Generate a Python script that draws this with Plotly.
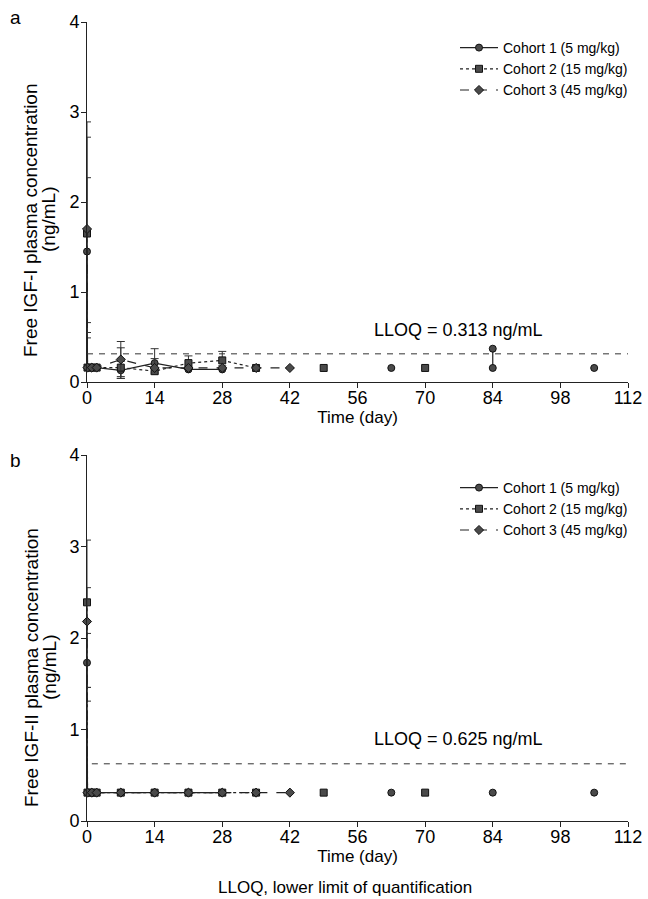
import plotly.graph_objects as go

# ---------------- data ----------------
x_ticks = [0, 14, 28, 42, 56, 70, 84, 98, 112]
y_ticks = [0, 1, 2, 3, 4]

cohort_names = ["Cohort 1 (5 mg/kg)", "Cohort 2 (15 mg/kg)", "Cohort 3 (45 mg/kg)"]

# Panel a: free IGF-I
a_c1_days = [0, 0.1, 1, 2, 7, 14, 21, 28]
a_c1_vals = [1.45, 0.16, 0.16, 0.16, 0.13, 0.21, 0.14, 0.14]
a_c1_errp = [0.82, 0, 0, 0, 0.10, 0.16, 0, 0]
a_c1_errm = [0.79, 0, 0, 0, 0.09, 0.10, 0, 0]
a_c1_ind_days = [63, None, 84, 84, None, 105]
a_c1_ind_vals = [0.156, None, 0.37, 0.156, None, 0.156]

a_c2_days = [0, 0.1, 1, 2, 7, 14, 21, 28, 35]
a_c2_vals = [1.65, 0.16, 0.16, 0.16, 0.16, 0.12, 0.21, 0.24, 0.156]
a_c2_errp = [1.07, 0, 0, 0, 0.22, 0.14, 0.08, 0.10, 0]
a_c2_errm = [1.10, 0, 0, 0, 0.10, 0.03, 0.04, 0.06, 0]
a_c2_ind_days = [49, 70]
a_c2_ind_vals = [0.156, 0.156]

a_c3_days = [0, 0.1, 1, 2, 7, 14, 21, 28, 35, 42]
a_c3_vals = [1.70, 0.16, 0.16, 0.16, 0.25, 0.156, 0.156, 0.156, 0.156, 0.156]
a_c3_errp = [1.19, 0, 0, 0, 0.20, 0, 0, 0, 0, 0]
a_c3_errm = [1.21, 0, 0, 0, 0.21, 0, 0, 0, 0, 0]
a_lloq = 0.313

# Panel b: free IGF-II
b_c1_days = [0, 0.1, 1, 2, 7, 14, 21, 28]
b_c1_vals = [1.73, 0.31, 0.31, 0.31, 0.31, 0.31, 0.31, 0.31]
b_c1_errp = [0.32, 0, 0, 0, 0, 0, 0, 0]
b_c1_errm = [0.27, 0, 0, 0, 0, 0, 0, 0]
b_c1_ind_days = [63, 84, 105]
b_c1_ind_vals = [0.31, 0.31, 0.31]

b_c2_days = [0, 0.1, 1, 2, 7, 14, 21, 28, 35]
b_c2_vals = [2.39, 0.31, 0.31, 0.31, 0.31, 0.31, 0.31, 0.31, 0.31]
b_c2_errp = [0.68, 0, 0, 0, 0, 0, 0, 0, 0]
b_c2_errm = [1.08, 0, 0, 0, 0, 0, 0, 0, 0]
b_c2_ind_days = [49, 70]
b_c2_ind_vals = [0.31, 0.31]

b_c3_days = [0, 0.1, 1, 2, 7, 14, 21, 28, 35, 42]
b_c3_vals = [2.18, 0.31, 0.31, 0.31, 0.31, 0.31, 0.31, 0.31, 0.31, 0.31]
b_c3_errp = [0.37, 0, 0, 0, 0, 0, 0, 0, 0, 0]
b_c3_errm = [0.72, 0, 0, 0, 0, 0, 0, 0, 0, 0]
b_lloq = 0.625

lloq_span = [0, 112]
lloq_span_b = [1, 112]

# ---------------- styling ----------------
FONT = "Liberation Sans, Arial, sans-serif"
LINE_COL = "#222222"
MK_FILL = "#4a4a4a"
styles = [
    dict(dash="solid", symbol="circle"),
    dict(dash="dot", symbol="square"),
    dict(dash="dash", symbol="diamond"),
]

fig = go.Figure()


def add_panel(xa, ya, legend, series, lloq, span):
    for i, (days, vals, ep, em, ind_d, ind_v) in enumerate(series):
        st = styles[i]
        mk = dict(symbol=st["symbol"], size=7, color=MK_FILL,
                  line=dict(color="#111111", width=1))
        fig.add_trace(go.Scatter(
            x=days, y=vals, mode="lines+markers", name=cohort_names[i],
            xaxis=xa, yaxis=ya, legend=legend, cliponaxis=False,
            line=dict(color=LINE_COL, width=1.2, dash=st["dash"]),
            marker=mk,
            error_y=dict(type="data", symmetric=False, array=ep, arrayminus=em,
                         color="#333333", thickness=1, width=4),
        ))
        if ind_d:
            mode = "lines+markers" if None in ind_d else "markers"
            fig.add_trace(go.Scatter(
                x=ind_d, y=ind_v, mode=mode, showlegend=False,
                xaxis=xa, yaxis=ya, legend=legend, cliponaxis=False, connectgaps=False,
                line=dict(color=LINE_COL, width=1.2),
                marker=mk,
            ))
    fig.add_trace(go.Scatter(
        x=span, y=[lloq, lloq], mode="lines", showlegend=False,
        xaxis=xa, yaxis=ya, line=dict(color="#333333", width=1, dash="6px,6px"),
    ))


add_panel("x", "y", "legend", [
    (a_c1_days, a_c1_vals, a_c1_errp, a_c1_errm, a_c1_ind_days, a_c1_ind_vals),
    (a_c2_days, a_c2_vals, a_c2_errp, a_c2_errm, a_c2_ind_days, a_c2_ind_vals),
    (a_c3_days, a_c3_vals, a_c3_errp, a_c3_errm, None, None),
], a_lloq, lloq_span)

add_panel("x2", "y2", "legend2", [
    (b_c1_days, b_c1_vals, b_c1_errp, b_c1_errm, b_c1_ind_days, b_c1_ind_vals),
    (b_c2_days, b_c2_vals, b_c2_errp, b_c2_errm, b_c2_ind_days, b_c2_ind_vals),
    (b_c3_days, b_c3_vals, b_c3_errp, b_c3_errm, None, None),
], b_lloq, lloq_span_b)

W, H = 648, 899
xdom = [87 / W, 628 / W]
ydom_a = [1 - 382 / H, 1 - 22 / H]
ydom_b = [1 - 821 / H, 1 - 455 / H]

axis_common = dict(
    showgrid=False, zeroline=False, showline=True, linecolor="#222222", linewidth=1,
    ticks="outside", ticklen=5, tickcolor="#222222",
    tickfont=dict(family=FONT, size=18, color="black"),
)

xaxis_common = dict(axis_common, range=[0, 112], tickvals=x_ticks, ticklabelstandoff=-6,
                    title=dict(text="Time (day)", font=dict(family=FONT, size=17, color="black"),
                               standoff=0))
yaxis_common = dict(axis_common, range=[0, 4], tickvals=y_ticks, ticklabelstandoff=-2)

leg_common = dict(xanchor="left", yanchor="top",
                  font=dict(family=FONT, size=14, color="black"),
                  bgcolor="rgba(0,0,0,0)", itemwidth=38, tracegroupgap=0)

fig.update_layout(
    width=W, height=H, autosize=False,
    margin=dict(l=0, r=0, t=0, b=0, autoexpand=False),
    paper_bgcolor="white", plot_bgcolor="white",
    showlegend=True,
    xaxis=dict(xaxis_common, domain=xdom, anchor="y"),
    yaxis=dict(yaxis_common, domain=ydom_a, anchor="x"),
    xaxis2=dict(xaxis_common, domain=xdom, anchor="y2"),
    yaxis2=dict(yaxis_common, domain=ydom_b, anchor="x2"),
    legend=dict(leg_common, x=455 / W, y=1 - 32 / H),
    legend2=dict(leg_common, x=455 / W, y=1 - 472 / H),
)

ann_font = dict(family=FONT, size=18, color="black")


def paper_text(px, py, text, angle=0, size=17):
    fig.add_annotation(x=px / W, y=1 - py / H, xref="paper", yref="paper", text=text,
                       textangle=angle, showarrow=False, xanchor="center", yanchor="middle",
                       font=dict(family=FONT, size=size, color="black"))


paper_text(15, 18, "a", size=19)
paper_text(15, 460, "b", size=19)
paper_text(31, 220, "Free IGF-I plasma concentration", angle=-90, size=19)
paper_text(49, 220, "(ng/mL)", angle=-90, size=19)
paper_text(31, 668, "Free IGF-II plasma concentration", angle=-90, size=19)
paper_text(49, 668, "(ng/mL)", angle=-90, size=19)
paper_text(345, 887, "LLOQ, lower limit of quantification")

fig.add_annotation(x=77, y=0.58, xref="x", yref="y", text="LLOQ = 0.313 ng/mL",
                   showarrow=False, font=ann_font)
fig.add_annotation(x=77, y=0.9, xref="x2", yref="y2", text="LLOQ = 0.625 ng/mL",
                   showarrow=False, font=ann_font)

fig.write_html("out.html")
